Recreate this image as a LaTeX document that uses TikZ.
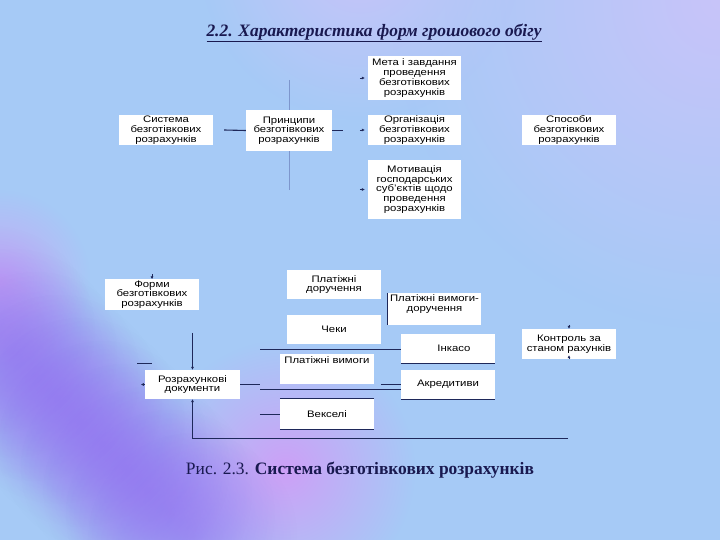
\documentclass[tikz,border=0pt]{standalone}
\usepackage{fontspec}
\setmainfont{Liberation Serif}
\setsansfont[FakeStretch=1.2]{Liberation Sans}
\usetikzlibrary{arrows.meta,positioning,calc,fadings}

\definecolor{bgblue}{RGB}{166,202,246}
\definecolor{bglav}{RGB}{200,196,250}
\definecolor{bgviolet}{RGB}{145,100,240}
\definecolor{bglilac}{RGB}{205,160,246}
\definecolor{titlecol}{RGB}{25,25,80}
\definecolor{wirecol}{RGB}{30,40,90}
\definecolor{palecol}{RGB}{125,150,205}

\tikzfading[name=softblob, inner color=transparent!0, outer color=transparent!100]
\pgfdeclarelayer{backdrop}
\pgfdeclarelayer{wires}
\pgfsetlayers{backdrop,wires,main}

\tikzset{
  box/.style={fill=white, minimum width=94bp, minimum height=30bp, inner sep=1bp,
    align=center, font=\sffamily\fontsize{9.5}{9.8}\selectfont},
  wire/.style={draw=wirecol, line width=0.8bp},
  edge/.style={draw=wirecol, line width=1.1bp},
  tip/.style={-{Latex[length=3bp,width=3bp]}},
}

\begin{document}
\begin{tikzpicture}[x=1bp, y=-1bp]
    \useasboundingbox (0,0) rectangle (720,540);

    % Background
    \begin{pgfonlayer}{backdrop}
    \fill[bgblue] (0,0) rectangle (720,540);
    \fill[bglav, path fading=softblob] (720,0) circle (330);
    \fill[bglav, path fading=softblob] (360,-40) circle (160);
    \fill[bglilac, path fading=softblob, opacity=0.8] (0,280) circle (90);
    \fill[bglilac, path fading=softblob] (285,470) circle (130);
    \foreach \t in {0,0.1,...,1.0}
        \fill[bgviolet, path fading=softblob, opacity=0.35] ($(-10,330)!\t!(215,560)$) circle (105);
    \fill[bgblue, path fading=softblob] (-10,565) circle (100);
    \end{pgfonlayer}

    % Title
    \node[font=\bfseries\itshape\fontsize{17.5}{20}\selectfont, text=titlecol] (title) at (374,33)
        {\underline{2.2. Характеристика форм грошового обігу}};

    % Top part
    \node[box] (sys) at (166,130) {Система\\безготівкових\\розрахунків};
    \node[box, minimum width=86bp, minimum height=41bp] (princ) at (289,130.5) {Принципи\\безготівкових\\розрахунків};
    \node[box, minimum width=93bp, minimum height=44bp] (meta) at (414.5,78) {Мета і завдання\\проведення\\безготівкових\\розрахунків};
    \node[box, minimum width=93bp] (org) at (414.5,130) {Організація\\безготівкових\\розрахунків};
    \node[box, minimum width=93bp, minimum height=59bp] (motiv) at (414.5,189.5) {Мотивація\\господарських\\суб'єктів щодо\\проведення\\розрахунків};
    \node[box] (sposoby) at (569,130) {Способи\\безготівкових\\розрахунків};

    \draw[wire, line width=1.1bp] ($(sys.east)+(11,0)$) -- (princ.west);
    \draw[wire] (princ.east) -- ++(11,0);
    \begin{pgfonlayer}{wires}
    \draw[draw=palecol, line width=0.8bp] ($(princ.north)+(0,-30)$) -- ($(princ.south)+(0,39)$);
    \end{pgfonlayer}
    \foreach \n in {meta,org,motiv}
        \draw[wire, tip] ($(\n.west)+(-8,0)$) -- ($(\n.west)+(-3,0)$);

    % Bottom part
    \node[box, minimum height=29bp] (formy) at (152,294.5) {Форми\\безготівкових\\розрахунків};
    \node[box, minimum height=29bp] (pldor) at (334,284.5) {Платіжні\\доручення};
    \node[box, minimum width=93bp, minimum height=32bp, text depth=12bp] (plvd) at (434.5,309) {Платіжні вимоги-\\доручення};
    \node[box, minimum height=29bp] (cheky) at (334,329.5) {Чеки};
    \node[box, minimum height=29bp] (inkaso) at (448,348.5) {\hspace{12bp}Інкасо};
    \node[box] (kontrol) at (569,344) {Контроль за\\станом рахунків};
    \node[box, text depth=17bp] (plvym) at (327,369) {Платіжні вимоги};
    \node[box, minimum width=95bp, minimum height=29bp] (rozdoc) at (192.5,384.5) {Розрахункові\\документи};
    \node[box, minimum height=29bp] (akred) at (448,384.5) {Акредитиви};
    \node[box] (veks) at (327,414) {Векселі};

    \coordinate (loopl) at (192.5,438);
    \coordinate (loopr) at (568,438);
    \coordinate (stubl) at (137,363);
    \coordinate (stubr) at (152,363);
    \coordinate (busup) at (260,349);
    \coordinate (buslow) at (260,389);

    \draw[wire, tip] ($(formy.north)+(0,-5)$) -- (formy.north);
    \draw[wire, tip] ($(rozdoc.north)+(0,-37)$) -- (rozdoc.north);
    \draw[wire, tip] (loopr) -- (loopl) -- (rozdoc.south);
    \draw[wire, tip] (rozdoc.west) -- ++(-4,0);
    \draw[wire] (stubl) -- (stubr);
    \draw[wire] (rozdoc.east) -- ++(20,0);
    \draw[wire] ($(akred.west)+(-20,0)$) -- (akred.west);
    \draw[wire] (busup) -- (busup -| inkaso.west);
    \draw[wire] (buslow) -- (buslow -| akred.west);
    \draw[wire] ($(veks.west)+(-20,0)$) -- (veks.west);
    \draw[wire, tip] ($(kontrol.north)+(0,-4)$) -- (kontrol.north);
    \draw[wire, tip] (kontrol.south) -- ++(0,-4);

    % Box edges
    \draw[edge] (plvd.north west) -- (plvd.south west);
    \draw[edge] (inkaso.south west) -- (inkaso.south east);
    \draw[edge] (akred.south west) -- (akred.south east);
    \draw[edge] (veks.north west) -- (veks.north east);
    \draw[edge] (veks.south west) -- (veks.south east);

    % Caption
    \node[font=\fontsize{17.5}{20}\selectfont, text=titlecol] (caption) at (360,470)
        {Рис. 2.3. \textbf{Система безготівкових розрахунків}};
\end{tikzpicture}
\end{document}
